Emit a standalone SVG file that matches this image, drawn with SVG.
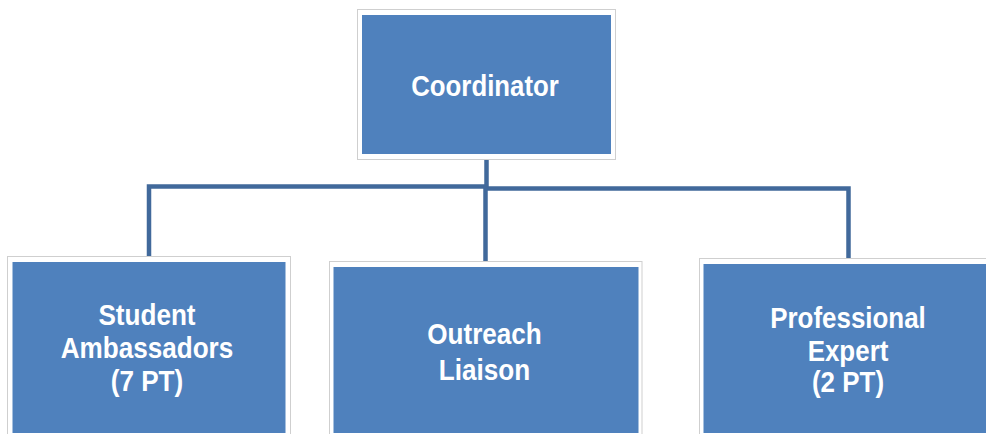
<svg xmlns="http://www.w3.org/2000/svg" width="986" height="434" viewBox="0 0 986 434">
<style>
.frame{fill:#ffffff;stroke:#cfcfcf;stroke-width:1}
.box{fill:#4f81bd}
.conn{fill:none;stroke:#41699b;stroke-width:4.5;stroke-linejoin:miter}
.lbl{font-family:"Liberation Sans",Arial,sans-serif;font-weight:bold;font-size:30px;fill:#ffffff;text-anchor:middle}
</style>
<rect width="986" height="434" fill="#ffffff"/>
<g id="connectors">
<path class="conn" d="M486.5,160 V186.5 H149 V257"/>
<path class="conn" d="M486.5,188.5 H848.5 V258.5"/>
<path class="conn" d="M485.5,186 V261"/>
</g>
<g id="coordinator">
<rect class="frame" x="357.5" y="9.5" width="258" height="150"/>
<rect class="box" x="362" y="15" width="249" height="139"/>
<text class="lbl" transform="translate(485,0) scale(0.86,1)" x="0" y="96">Coordinator</text>
</g>
<g id="student-ambassadors">
<rect class="frame" x="7.5" y="256.5" width="283" height="190"/>
<rect class="box" x="12.5" y="262" width="273" height="171"/>
<text class="lbl" transform="translate(147,0) scale(0.87,1)" x="0" y="325">Student</text>
<text class="lbl" transform="translate(147,0) scale(0.87,1)" x="0" y="358.5">Ambassadors</text>
<text class="lbl" transform="translate(147,0) scale(0.87,1)" x="0" y="391.5">(7 PT)</text>
</g>
<g id="outreach-liaison">
<rect class="frame" x="329.5" y="261.5" width="312.5" height="190"/>
<rect class="box" x="333.5" y="267" width="305" height="166"/>
<text class="lbl" transform="translate(484.5,0) scale(0.87,1)" x="0" y="344.5">Outreach</text>
<text class="lbl" transform="translate(484.5,0) scale(0.87,1)" x="0" y="380">Liaison</text>
</g>
<g id="professional-expert">
<rect class="frame" x="699.5" y="258.5" width="300" height="190"/>
<rect class="box" x="703.5" y="264" width="300" height="169"/>
<text class="lbl" transform="translate(848,0) scale(0.865,1)" x="0" y="328.5">Professional</text>
<text class="lbl" transform="translate(848,0) scale(0.865,1)" x="0" y="361">Expert</text>
<text class="lbl" transform="translate(848,0) scale(0.865,1)" x="0" y="392.5">(2 PT)</text>
</g>
</svg>
